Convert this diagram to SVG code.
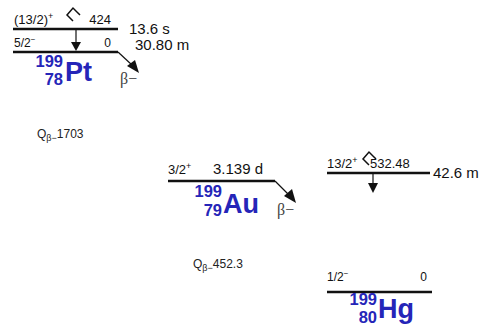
<svg xmlns="http://www.w3.org/2000/svg" width="491" height="333" viewBox="0 0 491 333">
<defs>
<style>
text{font-family:"Liberation Sans",Arial,sans-serif;fill:#111}
.lvl{stroke:#111;stroke-width:2.6}
.conn{stroke:#111;stroke-width:1.2;fill:none}
.ah{fill:#111}
.sp{font-size:13px}
.sm{font-size:12px}
.hl{font-size:15px}
.nuc{fill:#2525b8;font-weight:bold}
.A{font-size:16.5px}
.el{font-size:27px}
.beta{font-family:"Liberation Serif","Times New Roman",serif;font-size:16px;fill:#444}
.q{font-size:12px;fill:#222}
.it{stroke:#111;stroke-width:1.5;fill:none}
</style>
</defs>
<rect width="491" height="333" fill="#fff"/>

<g id="pt199">
<line class="lvl" x1="13" y1="29" x2="118" y2="29"/>
<text class="sp" x="14" y="24">(13/2)<tspan font-size="9" dy="-5">+</tspan></text>
<polyline class="it" points="73,21 67,15 73,8 80,15"/>
<text class="sp" x="111" y="24" text-anchor="end">424</text>
<text class="hl" x="129" y="34">13.6 s</text>
<text class="sm" x="14" y="47">5/2<tspan font-size="8" dy="-5">−</tspan></text>
<text class="sm" x="111" y="47" text-anchor="end">0</text>
<line class="lvl" x1="13" y1="52" x2="118" y2="52"/>
<text class="hl" x="135" y="50">30.80 m</text>
<text class="nuc A" x="63" y="67" text-anchor="end">199</text>
<text class="nuc A" x="63" y="85" text-anchor="end">78</text>
<text class="nuc el" x="65" y="81">Pt</text>
</g>

<g id="au199">
<text class="sp" x="168" y="174">3/2<tspan font-size="9" dy="-5">+</tspan></text>
<text class="hl" x="213" y="174">3.139 d</text>
<line class="lvl" x1="168" y1="181" x2="275" y2="181"/>
<text class="nuc A" x="222" y="197" text-anchor="end">199</text>
<text class="nuc A" x="222" y="216" text-anchor="end">79</text>
<text class="nuc el" x="223" y="213">Au</text>
</g>

<g id="hg199m">
<text class="sp" x="327" y="168">13/2<tspan font-size="9" dy="-5">+</tspan></text>
<polyline class="it" points="369,165 363,159 369,152 376,159"/>
<text class="sp" x="370" y="168">532.48</text>
<line class="lvl" x1="327" y1="173" x2="430" y2="173"/>
<text class="hl" x="433" y="178">42.6 m</text>
</g>

<g id="hg199">
<text class="sm" x="327" y="281">1/2<tspan font-size="8" dy="-5">−</tspan></text>
<text class="sm" x="427" y="281" text-anchor="end">0</text>
<line class="lvl" x1="327" y1="292" x2="432" y2="292"/>
<text class="nuc A" x="377" y="305" text-anchor="end">199</text>
<text class="nuc A" x="377" y="323" text-anchor="end">80</text>
<text class="nuc el" x="378" y="318">Hg</text>
</g>

<g id="connectors">
<line class="conn" x1="76" y1="30" x2="76" y2="43"/>
<polygon class="ah" points="71,42 81,42 76,51"/>
<line class="conn" x1="118" y1="52" x2="132" y2="65"/>
<polygon class="ah" points="127,66 135,60 139,73"/>
<text class="beta" x="120" y="84">β−</text>
<line class="conn" x1="275" y1="181" x2="289" y2="195"/>
<polygon class="ah" points="284,196 292,189 296,203"/>
<text class="beta" x="277" y="215">β−</text>
<line class="conn" x1="373" y1="174" x2="373" y2="185"/>
<polygon class="ah" points="368,183 378,183 373,193"/>
</g>

<g id="q-values">
<text class="q" x="37" y="138">Q<tspan font-size="9" dy="3">β−</tspan><tspan dy="-3">1703</tspan></text>
<text class="q" x="193" y="268">Q<tspan font-size="9" dy="3">β−</tspan><tspan dy="-3">452.3</tspan></text>
</g>
</svg>
